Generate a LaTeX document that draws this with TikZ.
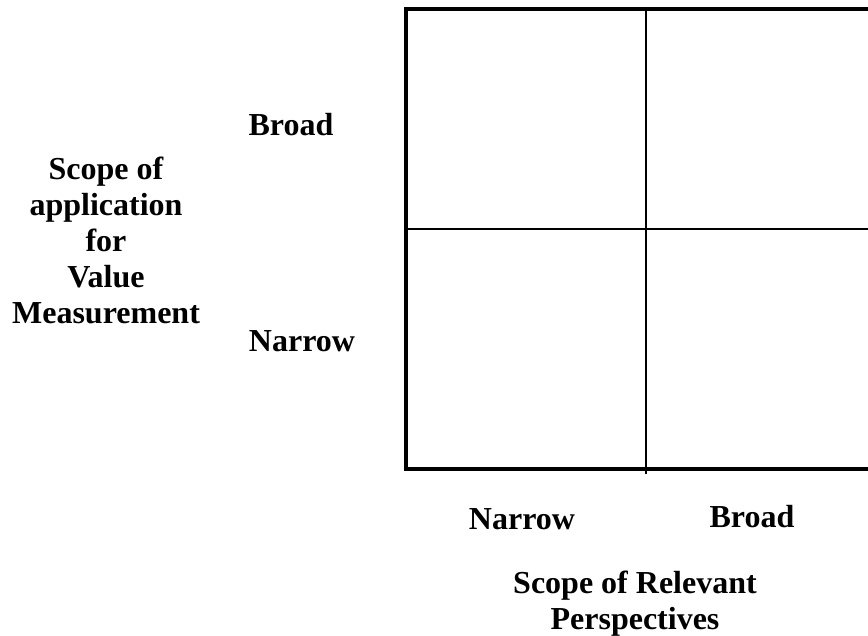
\documentclass[tikz,border=0pt]{standalone}
\usepackage{fontspec}
\setmainfont{Liberation Serif}
\begin{document}
\begin{tikzpicture}[x=1pt,y=-1pt,
  lbl/.style={font=\bfseries\fontsize{32}{36}\selectfont, inner sep=0pt, anchor=base, align=center},
  frame/.style={line width=4pt, line cap=butt, line join=miter},
  divider/.style={line width=2pt}]
\useasboundingbox (0,0) rectangle (868,636);
\clip (0,0) rectangle (868,636);
\fill[white] (0,0) rectangle (868,636);
% quadrant grid, open on the right
\coordinate (tl) at (406,9);
\coordinate (bl) at (406,469);
\draw[frame] (880,9) -- (tl) -- (bl) -- (880,469);
\draw[divider] (646,9) -- (646,474);
\draw[divider] (406,229) -- (880,229);
% vertical axis (base anchor sits on the last line)
\node[lbl] (ytitle) at (106,324) {Scope of\\application\\for\\Value\\Measurement};
\node[lbl] (ybroad) at (291,136) {Broad};
\node[lbl] (ynarrow) at (302,352) {Narrow};
% horizontal axis
\node[lbl] (xnarrow) at (522,529) {Narrow};
\node[lbl] (xbroad) at (752,527) {Broad};
\node[lbl] (xtitle) at (635,629) {Scope of Relevant\\Perspectives};
\end{tikzpicture}
\end{document}
